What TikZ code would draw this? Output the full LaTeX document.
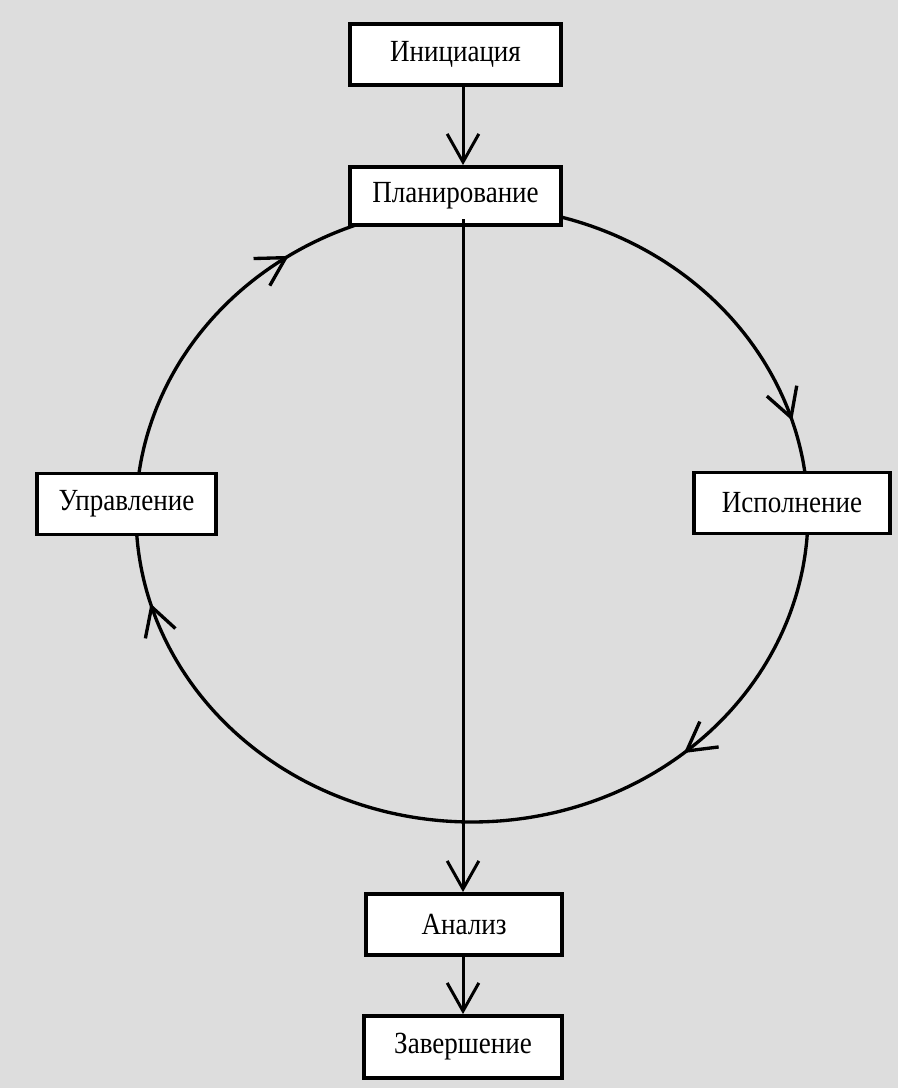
\documentclass[tikz,border=0pt]{standalone}
\usepackage{fontspec}
\setmainfont{Liberation Serif}[FakeStretch=0.88]
\usepackage{tikz}
\usetikzlibrary{arrows.meta, positioning, decorations.markings}
\definecolor{panel}{RGB}{221,221,221}

\begin{document}
\begin{tikzpicture}[x=0.02cm, y=-0.02cm, >={Straight Barb[length=16pt,width=18pt]}, line width=1.7pt,
    stage/.style={draw, fill=white, line width=2.2pt, inner sep=0pt, minimum height=1.22cm, font=\fontsize{17.5}{20}\selectfont},
    ring/.style={postaction={decorate}, decoration={markings,
        mark=at position 0.138 with {\arrow{>}},
        mark=at position 0.455 with {\arrow{>}},
        mark=at position 0.655 with {\arrow{>}},
        mark=at position 0.953 with {\arrow{>}}}}]
    % Background
    \fill[panel] (0,0) rectangle (898,1088);
    \useasboundingbox (0,0) rectangle (898,1088);

    % Cycle
    \coordinate (mid) at (472,514);
    \draw[ring, line width=1.9pt, shift={(mid)}] plot[domain=0:360, samples=145, smooth] ({336*cos(\x)}, {308*sin(\x)});

    % Nodes
    \node[stage, minimum width=4.22cm] (init) at (455.5,54.5) {Инициация};
    \node[stage, minimum width=4.22cm, minimum height=1.16cm] (plan) at (455.5,196) {Планирование};
    \node[stage, minimum width=3.58cm] (ctrl) at (126.5,504) {Управление};
    \node[stage, minimum width=3.92cm] (exec) at (792,503) {Исполнение};
    \node[stage, minimum width=3.92cm] (anal) at (464,924.5) {Анализ};
    \node[stage, minimum width=3.96cm, minimum height=1.24cm] (fin) at (463,1047) {Завершение};

    % Paths
    \draw[->] (init.south -| fin.north) -- (plan.north -| fin.north);
    \draw[->] ([yshift=0.15cm]plan.south -| fin.north) -- (anal.north -| fin.north);
    \draw[->] (anal.south -| fin.north) -- (fin.north);
\end{tikzpicture}
\end{document}
